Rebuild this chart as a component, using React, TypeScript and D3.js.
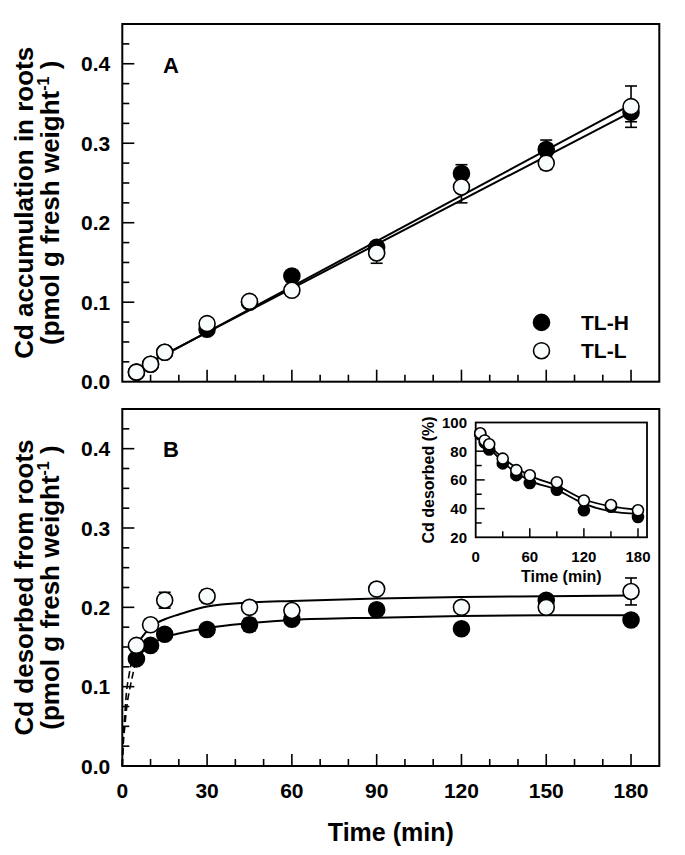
import * as d3 from "d3";

// sampling times (min)
const times = [5, 10, 15, 30, 45, 60, 90, 120, 150, 180];

// Panel A: Cd accumulation in roots
const accumH = [0.012, 0.022, 0.037, 0.066, 0.1, 0.133, 0.169, 0.262, 0.292, 0.339];
const accumHErr = [0.002, 0.002, 0.003, 0.004, 0.004, 0.004, 0.006, 0.011, 0.012, 0.012];
const accumL = [0.012, 0.022, 0.037, 0.073, 0.101, 0.115, 0.162, 0.245, 0.275, 0.346];
const accumLErr = [0.002, 0.002, 0.003, 0.004, 0.004, 0.004, 0.013, 0.02, 0.008, 0.026];
// regression lines (end points)
const accumFitX = [5, 180];
const accumFitH = [0.0158, 0.3392];
const accumFitL = [0.0147, 0.3485];

// Panel B: Cd desorbed from roots
const desorbH = [0.135, 0.152, 0.166, 0.172, 0.178, 0.185, 0.197, 0.173, 0.209, 0.184];
const desorbHErr = [0.003, 0.003, 0.004, 0.004, 0.008, 0.004, 0.004, 0.003, 0.004, 0.004];
const desorbL = [0.152, 0.178, 0.209, 0.214, 0.2, 0.196, 0.223, 0.2, 0.2, 0.22];
const desorbLErr = [0.003, 0.004, 0.01, 0.008, 0.004, 0.004, 0.006, 0.003, 0.003, 0.017];
// fitted curves
const fitTimes = [5, 10, 15, 20, 30, 45, 60, 90, 120, 150, 180];
const desorbFitH = [0.136, 0.153, 0.162, 0.167, 0.174, 0.18, 0.184, 0.187, 0.189, 0.19, 0.19];
const desorbFitL = [0.153, 0.175, 0.185, 0.191, 0.201, 0.206, 0.208, 0.211, 0.213, 0.214, 0.215];
// dashed extrapolation to the origin
const dashTimesH = [0, 0.3, 0.9, 1.6, 2.8, 4, 5];
const dashH = [0, 0.025, 0.05, 0.075, 0.1, 0.12, 0.136];
const dashTimesL = [0, 0.25, 0.8, 1.4, 2.4, 3.5, 5];
const dashL = [0, 0.03, 0.06, 0.09, 0.115, 0.135, 0.153];

// Inset: Cd desorbed (%)
const insetH = [91.8, 86.0, 81.2, 71.5, 63.3, 57.8, 53.1, 38.8, 41.3, 34.2];
const insetL = [92.5, 87.5, 84.8, 74.8, 66.8, 63.2, 58.4, 45.6, 42.5, 38.8];
const insetFitH = [92, 87, 82.5, 79, 72.5, 65, 59.5, 53, 43.5, 38, 36.3];
const insetFitL = [93, 88.5, 84.5, 81, 75.5, 68.5, 63, 56, 46.5, 41.5, 39.2];

const yTickLabels = [0, 0.1, 0.2, 0.3, 0.4];
const xTickLabels = [0, 30, 60, 90, 120, 150, 180];
const insetXLabels = [0, 60, 120, 180];
const insetYLabels = [20, 40, 60, 80, 100];

const FONT = "'Liberation Sans', Arial, Helvetica, sans-serif";

const LEFT = 122.3;
const RIGHT = 659.3;

type Pt = [number, number];

const x = d3.scaleLinear().domain([0, 190]).range([LEFT, RIGHT]);

function Frame({ y, top, bottom }: { y: d3.ScaleLinear<number, number>; top: number; bottom: number }) {
  const xt = d3.range(10, 181, 10);
  const yt = d3.range(0.025, 0.45, 0.025);
  return (
    <g>
      <rect x={LEFT} y={top} width={RIGHT - LEFT} height={bottom - top} fill="none" stroke="#000" strokeWidth={2} />
      {xt.map((t) => {
        const major = t % 30 === 0;
        return (
          <line key={"x" + t} x1={x(t)} x2={x(t)} y1={bottom} y2={bottom - (major ? 12 : 7)} stroke="#000" strokeWidth={1.6} />
        );
      })}
      {yt.map((t, i) => {
        const major = (i + 1) % 4 === 0;
        return (
          <line key={"y" + i} x1={LEFT} x2={LEFT + (major ? 12 : 7)} y1={y(t)} y2={y(t)} stroke="#000" strokeWidth={1.6} />
        );
      })}
      {yTickLabels.map((t) => (
        <text key={"l" + t} x={LEFT - 12} y={y(t)} dy="0.36em" textAnchor="end" fontFamily={FONT} fontWeight="bold" fontSize={21}>
          {d3.format(".1f")(t)}
        </text>
      ))}
    </g>
  );
}

function ErrBars({ xs, ys, es, y, cap }: { xs: number[]; ys: number[]; es: number[]; y: (v: number) => number; cap: number }) {
  return (
    <g stroke="#000" strokeWidth={1.6}>
      {xs.map((t, i) => {
        const cx = x(t);
        const lo = y(ys[i] - es[i]);
        const hi = y(ys[i] + es[i]);
        return (
          <g key={i}>
            <line x1={cx} x2={cx} y1={lo} y2={hi} />
            <line x1={cx - cap} x2={cx + cap} y1={lo} y2={lo} />
            <line x1={cx - cap} x2={cx + cap} y1={hi} y2={hi} />
          </g>
        );
      })}
    </g>
  );
}

function Dots({ xs, ys, sx, sy, r, filled }: { xs: number[]; ys: number[]; sx: (v: number) => number; sy: (v: number) => number; r: number; filled: boolean }) {
  return (
    <g>
      {xs.map((t, i) => (
        <circle key={i} cx={sx(t)} cy={sy(ys[i])} r={r} fill={filled ? "#000" : "#f8fcfc"} stroke="#000" strokeWidth={1.6} />
      ))}
    </g>
  );
}

function YTitle({ cy, first }: { cy: number; first: string }) {
  return (
    <g fontFamily={FONT} fontWeight="bold" fontSize={26} textAnchor="middle">
      <text transform={`translate(33,${cy}) rotate(-90)`}>{first}</text>
      <text transform={`translate(59,${cy}) rotate(-90)`}>
        (pmol g fresh weight
        <tspan fontSize={16} dy={-10}>-1</tspan>
        <tspan dy={10}> )</tspan>
      </text>
    </g>
  );
}

export default function App() {
  const yA = d3.scaleLinear().domain([0, 0.45]).range([381.7, 24]);
  const yB = d3.scaleLinear().domain([0, 0.45]).range([766, 409]);
  const ix = d3.scaleLinear().domain([0, 190]).range([475.7, 647]);
  const iy = d3.scaleLinear().domain([20, 100]).range([537.3, 422.5]);

  const lineA = d3.line<Pt>().x((d) => x(d[0])).y((d) => yA(d[1]));
  const lineB = d3.line<Pt>().x((d) => x(d[0])).y((d) => yB(d[1])).curve(d3.curveMonotoneX);
  const lineI = d3.line<Pt>().x((d) => ix(d[0])).y((d) => iy(d[1])).curve(d3.curveMonotoneX);

  const zip = (a: number[], b: number[]) => a.map((v, i) => [v, b[i]] as Pt);

  return (
    <svg width={685} height={855} style={{ position: "absolute", left: 0, top: 0, background: "#fff" }}>
      {/* Panel A */}
      <Frame y={yA} top={24} bottom={381.7} />
      <text x={171} y={72.7} textAnchor="middle" fontFamily={FONT} fontWeight="bold" fontSize={22}>A</text>
      <YTitle cy={202.8} first="Cd accumulation in roots" />
      <path d={lineA(zip(accumFitX, accumFitL)) ?? ""} fill="none" stroke="#000" strokeWidth={2} />
      <path d={lineA(zip(accumFitX, accumFitH)) ?? ""} fill="none" stroke="#000" strokeWidth={2} />
      <ErrBars xs={times} ys={accumH} es={accumHErr} y={yA} cap={6} />
      <ErrBars xs={times} ys={accumL} es={accumLErr} y={yA} cap={6} />
      <Dots xs={times} ys={accumH} sx={x} sy={yA} r={8} filled />
      <Dots xs={times} ys={accumL} sx={x} sy={yA} r={8} filled={false} />
      {/* legend */}
      <circle cx={541.5} cy={322.4} r={8} fill="#000" stroke="#000" strokeWidth={1.6} />
      <circle cx={541.5} cy={350.7} r={8} fill="#f8fcfc" stroke="#000" strokeWidth={1.6} />
      <text x={581} y={322.4} dy="0.36em" fontFamily={FONT} fontWeight="bold" fontSize={21}>TL-H</text>
      <text x={581} y={350.7} dy="0.36em" fontFamily={FONT} fontWeight="bold" fontSize={21}>TL-L</text>

      {/* Panel B */}
      <Frame y={yB} top={409} bottom={766} />
      <text x={171} y={457} textAnchor="middle" fontFamily={FONT} fontWeight="bold" fontSize={22}>B</text>
      <YTitle cy={587.5} first="Cd desorbed from roots" />
      {xTickLabels.map((t) => (
        <text key={t} x={x(t)} y={798} textAnchor="middle" fontFamily={FONT} fontWeight="bold" fontSize={21}>{t}</text>
      ))}
      <text x={(LEFT + RIGHT) / 2} y={841} textAnchor="middle" fontFamily={FONT} fontWeight="bold" fontSize={25}>Time (min)</text>
      <path d={lineB(zip(dashTimesH, dashH)) ?? ""} fill="none" stroke="#000" strokeWidth={1.6} strokeDasharray="7,4" />
      <path d={lineB(zip(dashTimesL, dashL)) ?? ""} fill="none" stroke="#000" strokeWidth={1.6} strokeDasharray="7,4" />
      <path d={lineB(zip(fitTimes, desorbFitH)) ?? ""} fill="none" stroke="#000" strokeWidth={2} />
      <path d={lineB(zip(fitTimes, desorbFitL)) ?? ""} fill="none" stroke="#000" strokeWidth={2} />
      <ErrBars xs={times} ys={desorbH} es={desorbHErr} y={yB} cap={6} />
      <ErrBars xs={times} ys={desorbL} es={desorbLErr} y={yB} cap={6} />
      <Dots xs={times} ys={desorbH} sx={x} sy={yB} r={8} filled />
      <Dots xs={times} ys={desorbL} sx={x} sy={yB} r={8} filled={false} />

      {/* Inset */}
      <g>
        <rect x={475.7} y={422.5} width={647 - 475.7} height={537.3 - 422.5} fill="#fff" stroke="#000" strokeWidth={1.8} />
        {d3.range(30, 181, 30).map((t) => (
          <line key={"ix" + t} x1={ix(t)} x2={ix(t)} y1={537.3} y2={537.3 - (t % 60 === 0 ? 9 : 6)} stroke="#000" strokeWidth={1.5} />
        ))}
        {d3.range(30, 100, 10).map((t) => (
          <line key={"iy" + t} x1={475.7} x2={475.7 + (t % 20 === 0 ? 9 : 6)} y1={iy(t)} y2={iy(t)} stroke="#000" strokeWidth={1.5} />
        ))}
        {insetXLabels.map((t) => (
          <text key={"ixl" + t} x={ix(t)} y={561.7} textAnchor="middle" fontFamily={FONT} fontWeight="bold" fontSize={15}>{t}</text>
        ))}
        {insetYLabels.map((t) => (
          <text key={"iyl" + t} x={467} y={iy(t)} dy="0.36em" textAnchor="end" fontFamily={FONT} fontWeight="bold" fontSize={15}>{t}</text>
        ))}
        <text x={561.4} y={581.7} textAnchor="middle" fontFamily={FONT} fontWeight="bold" fontSize={16}>Time (min)</text>
        <text transform="translate(434,480) rotate(-90)" textAnchor="middle" fontFamily={FONT} fontWeight="bold" fontSize={16}>Cd desorbed (%)</text>
        <path d={lineI(zip(fitTimes, insetFitH)) ?? ""} fill="none" stroke="#000" strokeWidth={1.8} />
        <path d={lineI(zip(fitTimes, insetFitL)) ?? ""} fill="none" stroke="#000" strokeWidth={1.8} />
        <Dots xs={times} ys={insetH} sx={ix} sy={iy} r={5.5} filled />
        <Dots xs={times} ys={insetL} sx={ix} sy={iy} r={5.5} filled={false} />
      </g>
    </svg>
  );
}
